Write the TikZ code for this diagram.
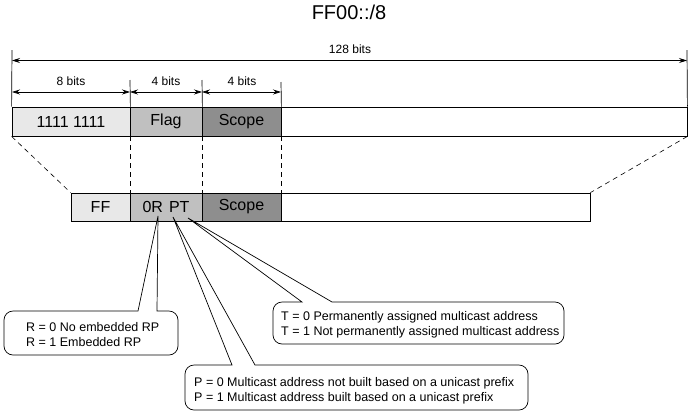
\documentclass[tikz,border=0pt]{standalone}
\usepackage{fontspec}
\setmainfont{Liberation Sans}
\usetikzlibrary{arrows.meta}
\definecolor{lightg}{RGB}{232,232,232}
\definecolor{midg}{RGB}{192,192,192}
\definecolor{darkg}{RGB}{142,142,142}
\tikzset{
  seg/.style={draw, line width=0.8pt, inner sep=0pt, font=\fontsize{16}{16}\selectfont},
  dim/.style={line width=0.7pt, {Stealth[length=8pt,width=5pt]}-{Stealth[length=8pt,width=5pt]}},
  tick/.style={line width=0.7pt},
  guide/.style={dashed, dash pattern=on 5pt off 4pt, line width=0.6pt},
  bitlbl/.style={font=\fontsize{12}{12}\selectfont, inner sep=0pt},
  ctext/.style={font=\fontsize{12.5}{15}\selectfont, align=left, inner sep=0pt, anchor=north west},
  callout/.style={line width=0.7pt, fill=white},
}
\begin{document}
\begin{tikzpicture}[x=1pt,y=-1pt]
\useasboundingbox (0,0) rectangle (690,413);
% title
\node[font=\fontsize{20}{20}\selectfont, inner sep=0pt] (title) at (349,12) {FF00::/8};
% top row
\node[seg, fill=lightg, minimum width=118pt, minimum height=29pt] (a1) at (71,121.5) {1111 1111};
\node[seg, fill=midg, minimum width=72pt, minimum height=29pt] (a2) at (166,121.5) {Flag};
\node[seg, fill=darkg, minimum width=79pt, minimum height=29pt] (a3) at (241.5,121.5) {Scope};
\node[seg, fill=white, minimum width=406pt, minimum height=29pt] (a4) at (484,121.5) {};
% bottom row
\node[seg, fill=lightg, minimum width=59pt, minimum height=28pt] (b1) at (100.5,207) {FF};
\node[seg, fill=midg, minimum width=72pt, minimum height=28pt] (b2) at (166,207) {0R\hspace{6pt}PT};
\node[seg, fill=darkg, minimum width=79pt, minimum height=28pt] (b3) at (241.5,207) {Scope};
\node[seg, fill=white, minimum width=309pt, minimum height=28pt] (b4) at (435.5,207) {};
% tick coordinates
\coordinate (t0top) at (12,50);
\coordinate (t4top) at (687,50);
\coordinate (t1top) at (130,80);
\coordinate (t2top) at (202,80);
\coordinate (t3top) at (281,82);
\draw[tick] (t0top) -- (a1.north west);
\draw[tick] (t4top) -- (a4.north east);
\draw[tick] (t1top) -- (a1.north east);
\draw[tick] (t2top) -- (a2.north east);
\draw[tick] (t3top) -- (a3.north east);
% dimension arrows
\coordinate (d0) at (12,60.5);
\coordinate (d4) at (687,60.5);
\coordinate (e0) at (12,92);
\coordinate (e1) at (130,92);
\coordinate (e2) at (202,92);
\coordinate (e3) at (281,92);
\draw[dim] (d0) -- (d4);
\draw[dim] (e0) -- (e1);
\draw[dim] (e1) -- (e2);
\draw[dim] (e2) -- (e3);
\node[bitlbl] (l128) at (350,49) {128 bits};
\node[bitlbl] (l8) at (71,81) {8 bits};
\node[bitlbl] (l4a) at (166,81) {4 bits};
\node[bitlbl] (l4b) at (242,81) {4 bits};
% dashed guides
\draw[guide] (a1.south west) -- (b1.north west);
\draw[guide] (a4.south east) -- (b4.north east);
\draw[guide] (a1.south east) -- (b1.north east);
\draw[guide] (a2.south east) -- (b2.north east);
\draw[guide] (a3.south east) -- (b3.north east);
% pointer apexes
\coordinate (pR) at (158,216);
\coordinate (pP) at (173,217);
\coordinate (pT) at (188,218);
% R callout
\draw[callout] (157,311) [rounded corners=9pt] -- (178,311) -- (178,355) -- (4,355) -- (4,311) [sharp corners] -- (138,311) -- (pR) -- cycle;
\node[ctext] (rtxt) at (26,322.5) {R = 0 No embedded RP\\R = 1 Embedded RP};
% T callout
\draw[callout] (332,302) [rounded corners=9pt] -- (564,302) -- (564,344) -- (273,344) -- (273,302) [sharp corners] -- (302,302) -- (pT) -- cycle;
\node[ctext] (ttxt) at (281,311.5) {T = 0 Permanently assigned multicast address\\T = 1 Not permanently assigned multicast address};
% P callout
\draw[callout] (255,365) [rounded corners=9pt] -- (528,365) -- (528,410) -- (185,410) -- (185,365) [sharp corners] -- (232,365) -- (pP) -- cycle;
\node[ctext] (ptxt) at (194,377.5) {P = 0 Multicast address not built based on a unicast prefix\\P = 1 Multicast address built based on a unicast prefix};
\end{tikzpicture}
\end{document}
